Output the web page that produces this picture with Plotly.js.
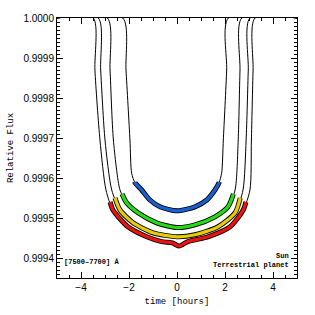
<!DOCTYPE html>
<html>
<head>
<meta charset="utf-8">
<script src="https://cdn.plot.ly/plotly-3.0.1.min.js"></script>
<style>html,body{margin:0;padding:0;background:#fff;}#chart{width:315px;height:315px;}</style>
</head>
<body>
<div id="chart"></div>
<script>
// time [hours] and relative flux for each light curve
const timeRed    = [-5, -3.49, -3.42, -3.21, -2.96, -2.67, -2.04, -1.26, -0.64, -0.2, 0.08, 0.46, 1.29, 2.21, 2.76, 3.04, 3.10, 3.17, 3.25, 5];
const fluxRed    = [1, 1, 0.99987, 0.999695, 0.99957, 0.99952, 0.999478, 0.999453, 0.999441, 0.999438, 0.99943, 0.999441, 0.999453, 0.999478, 0.99952, 0.99957, 0.999695, 0.99987, 1, 1];
const timeYellow = [-5, -3.28, -3.18, -3.0, -2.72, -2.375, -1.83, -1.0, 0, 0.75, 1.71, 2.42, 2.75, 2.88, 2.97, 3.04, 5];
const fluxYellow = [1, 1, 0.99987, 0.999695, 0.99957, 0.99952, 0.999488, 0.999463, 0.999453, 0.999458, 0.999478, 0.999513, 0.99957, 0.999695, 0.99987, 1, 1];
const timeGreen  = [-5, -2.90, -2.79, -2.65, -2.375, -2.10, -1.625, -0.85, 0, 0.75, 1.58, 2.125, 2.42, 2.55, 2.625, 2.70, 5];
const fluxGreen  = [1, 1, 0.99987, 0.999695, 0.99957, 0.999538, 0.999513, 0.999488, 0.999476, 0.999483, 0.999503, 0.999528, 0.99957, 0.999695, 0.99987, 1, 1];
const timeBlue   = [-5, -2.26, -2.125, -1.96, -1.89, -1.75, -1.47, -1.125, -0.71, 0, 0.75, 1.24, 1.58, 1.75, 1.86, 1.93, 2.07, 2.14, 5];
const fluxBlue   = [1, 1, 0.99987, 0.999695, 0.999612, 0.999588, 0.99957, 0.999545, 0.999528, 0.999518, 0.999528, 0.999545, 0.99957, 0.999588, 0.999612, 0.999695, 0.99987, 1, 1];
// flux level where each coloured band begins
const bandTop = {red: 0.99954, yellow: 0.99955, green: 0.99956, blue: 0.99959};

const xTickVals = [-4, -2, 0, 2, 4];
const curves = [
  {t: timeRed, f: fluxRed, color: '#ee1111', top: bandTop.red},
  {t: timeYellow, f: fluxYellow, color: '#e8cc00', top: bandTop.yellow},
  {t: timeGreen, f: fluxGreen, color: '#22dd11', top: bandTop.green},
  {t: timeBlue, f: fluxBlue, color: '#1a5fd0', top: bandTop.blue}
];

function band(t, f, lvl) {
  const bt = [], bf = [];
  for (let i = 0; i < t.length; i++) {
    if (i > 0) {
      const a = f[i - 1] <= lvl, b = f[i] <= lvl;
      if (a !== b) {
        const r = (lvl - f[i - 1]) / (f[i] - f[i - 1]);
        bt.push(t[i - 1] + r * (t[i] - t[i - 1])); bf.push(lvl);
      }
    }
    if (f[i] <= lvl) { bt.push(t[i]); bf.push(f[i]); }
  }
  return [bt, bf];
}

const traces = [];
curves.forEach(c => {
  const [bt, bf] = band(c.t, c.f, c.top);
  traces.push({x: c.t, y: c.f, mode: 'lines', line: {color: '#000', width: 1, shape: 'spline', smoothing: 0.7}, hoverinfo: 'skip'});
  traces.push({x: bt, y: bf, mode: 'lines', line: {color: '#000', width: 5, shape: 'spline', smoothing: 0.7}, hoverinfo: 'skip'});
  traces.push({x: bt, y: bf, mode: 'lines', line: {color: c.color, width: 3.2, shape: 'spline', smoothing: 0.7}, hoverinfo: 'skip'});
});

const tickFont = {family: 'Liberation Sans, Arial, sans-serif', size: 10, color: '#000'};
const monoFont = {family: 'Liberation Mono, Courier New, monospace', size: 9, color: '#000'};

const layout = {
  width: 315, height: 315,
  margin: {l: 57, r: 18, t: 18, b: 37},
  paper_bgcolor: '#fff', plot_bgcolor: '#fff',
  showlegend: false,
  xaxis: {
    range: [-5, 5], tickvals: xTickVals, ticks: 'inside', ticklen: 6, tickwidth: 1, tickcolor: '#000',
    showline: true, linecolor: '#000', linewidth: 1, mirror: 'allticks', showgrid: false, zeroline: false,
    tickfont: tickFont,
    minor: {dtick: 0.5, ticks: 'inside', ticklen: 3, tickcolor: '#000', showgrid: false},
    title: {text: 'time [hours]', font: monoFont, standoff: 5}
  },
  yaxis: {
    range: [0.99935, 1.0], dtick: 0.0001, tick0: 1.0, tickformat: '.4f', ticks: 'inside', ticklen: 6, tickwidth: 1, tickcolor: '#000',
    showline: true, linecolor: '#000', linewidth: 1, mirror: 'allticks', showgrid: false, zeroline: false,
    tickfont: tickFont,
    minor: {dtick: 0.00001, ticks: 'inside', ticklen: 3, tickcolor: '#000', showgrid: false},
    title: {text: 'Relative Flux', font: monoFont, standoff: 8}
  },
  annotations: [
    {text: '<b>[7500–7700] Å</b>', xref: 'paper', yref: 'paper', x: 0.02, y: 0.06, xanchor: 'left', yanchor: 'middle', showarrow: false, font: {family: 'Liberation Mono, monospace', size: 7, color: '#000'}},
    {text: '<b>Sun</b>', xref: 'paper', yref: 'paper', x: 0.975, y: 0.085, xanchor: 'right', yanchor: 'middle', showarrow: false, font: {family: 'Liberation Mono, monospace', size: 7, color: '#000'}},
    {text: '<b>Terrestrial planet</b>', xref: 'paper', yref: 'paper', x: 0.975, y: 0.05, xanchor: 'right', yanchor: 'middle', showarrow: false, font: {family: 'Liberation Mono, monospace', size: 7, color: '#000'}}
  ]
};

Plotly.newPlot('chart', traces, layout, {staticPlot: true, displayModeBar: false});
</script>
</body>
</html>
